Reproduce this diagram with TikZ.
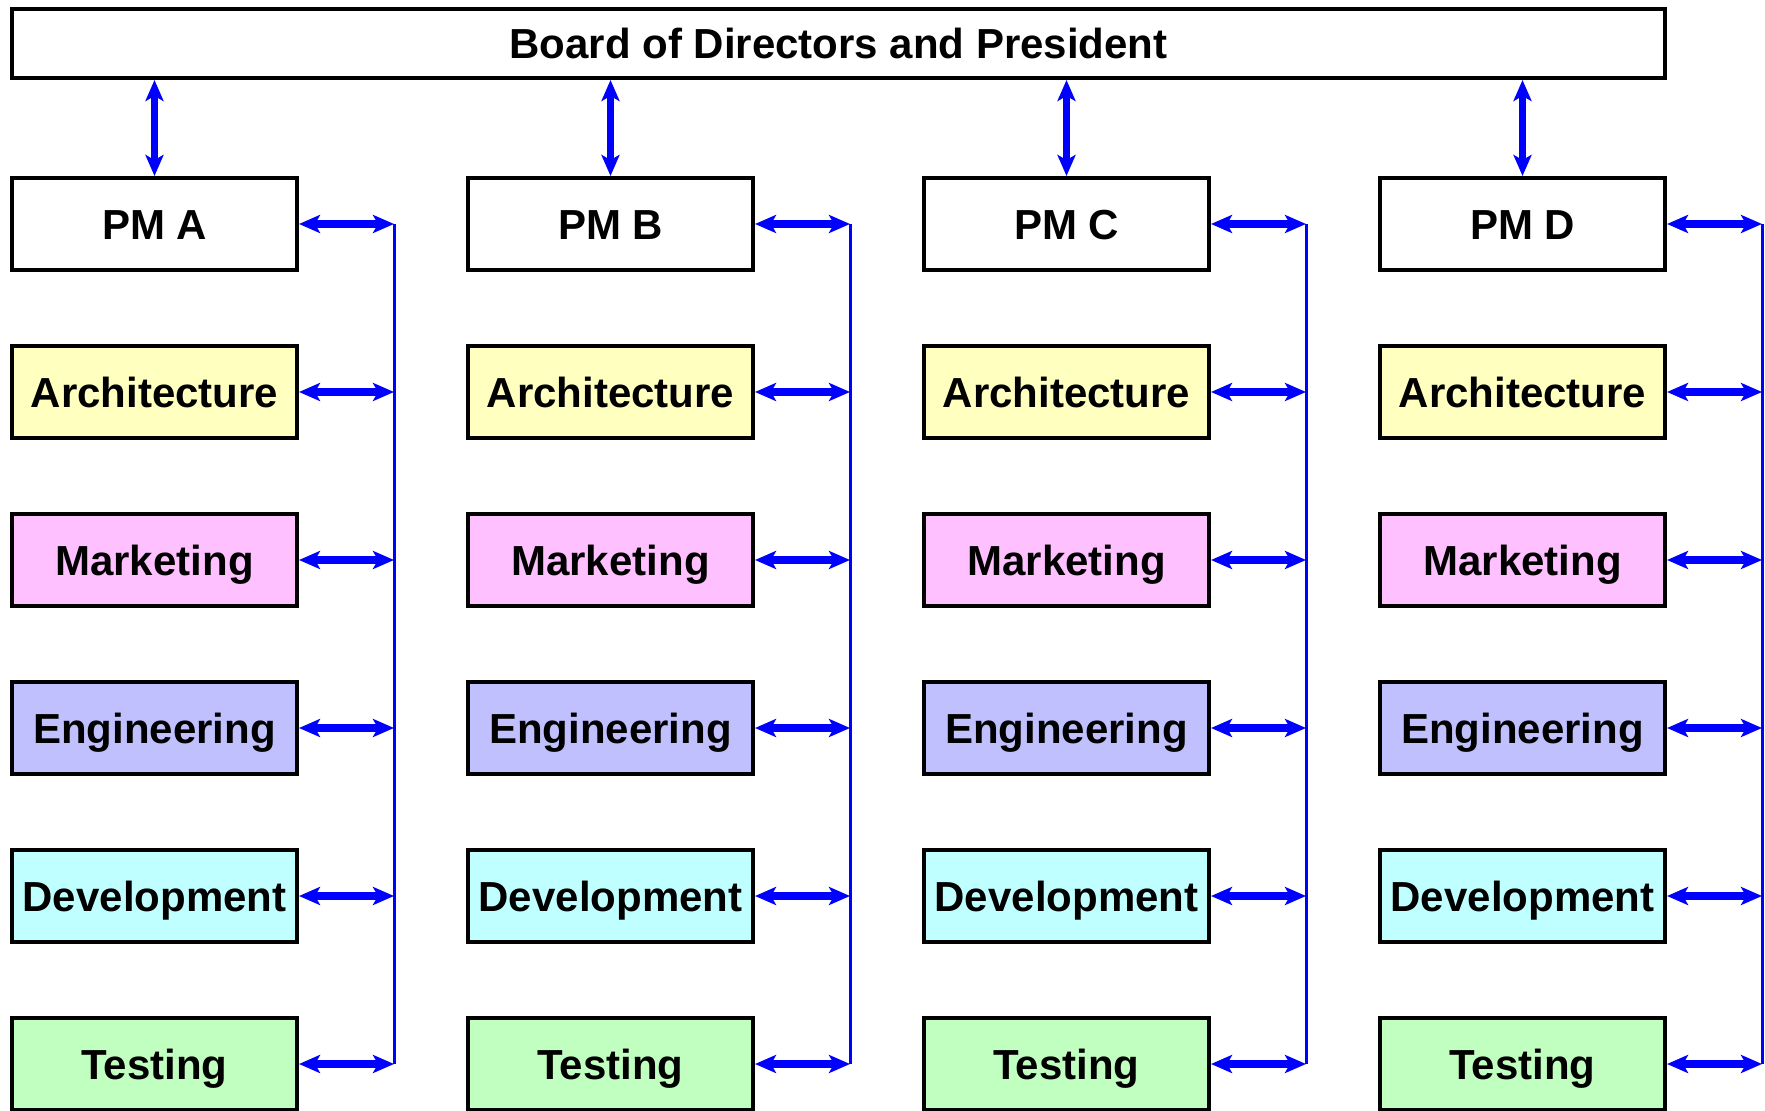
\documentclass[tikz,border=0pt]{standalone}
\usepackage{fontspec}
\setmainfont{Liberation Sans}
\usetikzlibrary{arrows.meta}
\definecolor{cArch}{HTML}{FFFFC0}
\definecolor{cMkt}{HTML}{FFC0FF}
\definecolor{cEng}{HTML}{C0C0FF}
\definecolor{cDev}{HTML}{C0FFFF}
\definecolor{cTst}{HTML}{C0FFC0}
\begin{document}
\begin{tikzpicture}[x=0.5pt,y=-0.5pt,
  box/.style={draw=black, line width=2pt, minimum width=142.5pt, minimum height=46pt,
    inner sep=0pt, text height=15.2pt, text depth=0pt,
    font=\fontsize{21}{24}\selectfont\bfseries},
  link/.style={blue, line width=3.8pt,
    {Stealth[length=10.5pt,width=9pt,inset=2.5pt]}-{Stealth[length=10.5pt,width=9pt,inset=2.5pt]}},
  bus/.style={blue, line width=1.5pt}]
\useasboundingbox (0,0) rectangle (1765,1111);
\node[box, minimum width=826.5pt, minimum height=34.5pt, fill=white] (board) at (838.5,43.5)
  {Board of Directors and President};
\foreach \L [count=\i from 0] in {A,B,C,D} {
  \pgfmathsetmacro\cx{154.5+456*\i}
  \pgfmathsetmacro\bx{394+456*\i}
  \node[box, fill=white] (pm\L) at (\cx,224) {PM \L};
  \foreach \n/\t/\f [count=\j] in {arch/Architecture/cArch, mkt/Marketing/cMkt,
      eng/Engineering/cEng, dev/Development/cDev, tst/Testing/cTst} {
    \node[box, fill=\f] (\n\L) at (\cx,224+168*\j) {\t};
  }
  \coordinate (bt\L) at (\bx,224);
  \coordinate (bb\L) at (\bx,1064);
  \draw[bus] (bt\L) -- (bb\L);
  \foreach \n in {pm,arch,mkt,eng,dev,tst}
    \draw[link] (\n\L.east) -- (\n\L.east -| bt\L);
  \draw[link] (pm\L.north |- board.south) -- (pm\L.north);
}
\end{tikzpicture}
\end{document}
